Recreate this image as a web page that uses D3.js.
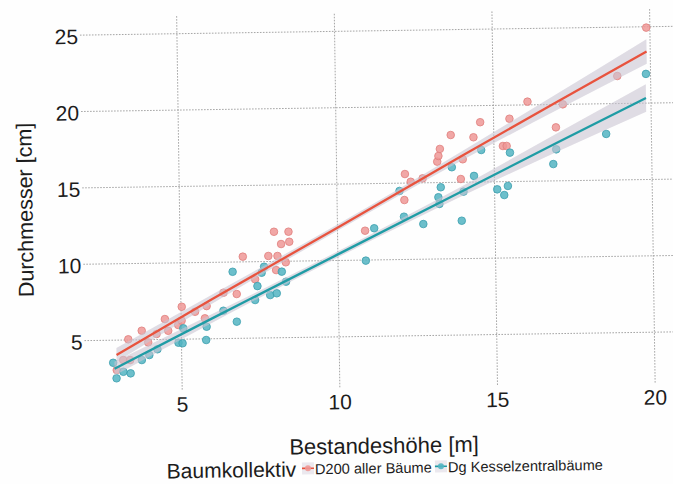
<!DOCTYPE html>
<html>
<head>
<meta charset="utf-8">
<script src="https://cdn.jsdelivr.net/npm/d3@7"></script>
<style>
  html, body { margin: 0; padding: 0; background: #fefefe; }
  svg { display: block; font-family: "Liberation Sans", Arial, Helvetica, sans-serif; }
</style>
</head>
<body>
<script>
// Stand height (m) and diameter (cm) per stand, for two tree collectives
const heightD200 = [2.95, 3.16, 3.38, 3.33, 3.76, 3.96, 4.23, 4.50, 4.60, 4.92, 5.03, 5.04,
  5.46, 5.77, 5.83, 6.37, 6.79, 7.00, 7.38, 7.81, 8.00, 8.05, 8.10, 8.22, 8.36, 8.46, 8.48,
  10.89, 12.15, 12.18, 12.36, 12.74, 13.21, 13.25, 13.30, 13.65, 13.95, 14.02, 14.37, 14.59,
  15.30, 15.42, 15.52, 16.10, 16.99, 17.22, 18.96, 19.90];
const diamD200 = [3.01, 3.66, 3.65, 5.01, 5.56, 4.79, 5.33, 6.30, 5.53, 5.90, 6.18, 7.09,
  6.75, 6.31, 7.11, 7.97, 7.87, 10.31, 8.82, 10.33, 11.91, 9.40, 10.32, 11.10, 9.90, 11.90, 11.24,
  11.89, 13.86, 15.56, 15.05, 15.26, 16.34, 16.71, 17.17, 18.07, 15.18, 16.47, 17.90, 18.88,
  17.30, 17.30, 19.08, 20.18, 18.47, 19.97, 21.77, 24.91];

const heightDg = [2.84, 2.94, 3.16, 3.39, 3.75, 3.99, 4.25, 4.92, 5.05, 5.08, 5.80, 5.82,
  6.36, 6.67, 6.78, 7.37, 7.45, 7.59, 7.67, 7.85, 8.06, 8.23, 8.36, 10.90, 11.18, 12.00,
  12.13, 12.74, 13.23, 13.26, 13.31, 13.67, 13.96, 14.03, 14.37, 14.61, 15.10, 15.32, 15.44,
  15.52, 16.89, 16.99, 18.58, 19.87];
const diamDg = [3.49, 2.47, 2.89, 2.78, 3.64, 3.96, 4.33, 4.74, 4.70, 5.68, 4.89, 5.76,
  6.79, 9.33, 6.06, 7.46, 8.37, 9.24, 9.63, 7.77, 7.88, 9.29, 8.63, 9.93, 12.04, 14.46,
  12.77, 12.27, 14.01, 13.57, 14.66, 15.96, 12.45, 14.35, 15.37, 17.06, 14.47, 14.09, 14.68,
  16.86, 16.07, 17.03, 17.99, 21.88];

// Linear trend (fitted value) with lower/upper confidence limits
const fitXD200 = [2.95, 6, 10, 14, 17, 19.9];
const fitD200 = [4.0, 7.55, 12.1, 16.7, 20.1, 23.35];
const fitLoD200 = [3.55, 7.25, 11.9, 16.4, 19.58, 22.55];
const fitHiD200 = [4.45, 7.85, 12.3, 17.0, 20.62, 24.15];

const fitXDg = [2.88, 6, 10, 14, 17, 19.86];
const fitDg = [3.1, 6.3, 10.35, 14.4, 17.45, 20.3];
const fitLoDg = [2.65, 6.02, 10.15, 14.08, 16.85, 19.4];
const fitHiDg = [3.55, 6.58, 10.55, 14.72, 18.05, 21.2];

const seriesNames = ["D200 aller Bäume", "Dg Kesselzentralbäume"];
const xTicks = [5, 10, 15, 20];
const yTicks = [5, 10, 15, 20, 25];
const xTitle = "Bestandeshöhe [m]";
const yTitle = "Durchmesser [cm]";
const legendTitle = "Baumkollektiv";

const W = 673, H = 484;
const panel = { left: 83, right: 680, top: 12, bottom: 387 };

const series = [
  { name: seriesNames[0], xs: heightD200, ys: diamD200,
    fx: fitXD200, fy: fitD200, flo: fitLoD200, fhi: fitHiD200,
    point: "#ef9896", pointStroke: "#e07f7d", line: "#e8533e" },
  { name: seriesNames[1], xs: heightDg, ys: diamDg,
    fx: fitXDg, fy: fitDg, flo: fitLoDg, fhi: fitHiDg,
    point: "#52b4c2", pointStroke: "#3c9fae", line: "#1f9ca5" }
];

const x = d3.scaleLinear().domain([2.0, 20.6]).range([84.9, 671.4]);
const y = d3.scaleLinear().domain([1.5, 26.5]).range([389.5, 7.6]);

const svg = d3.select("body").append("svg").attr("width", W).attr("height", H);
svg.append("rect").attr("width", W).attr("height", H).attr("fill", "#fefefe");

const g = svg.append("g").attr("transform", "rotate(-0.85,360,240)");

// Grid via axes
const gx = g.append("g").attr("transform", `translate(0,${panel.bottom})`)
  .call(d3.axisBottom(x).tickValues(xTicks).tickSize(-(panel.bottom - panel.top)).tickFormat(d3.format("d")));
const gy = g.append("g").attr("transform", `translate(${panel.left},0)`)
  .call(d3.axisLeft(y).tickValues(yTicks).tickSize(-(panel.right - panel.left)).tickFormat(d3.format("d")));

[gx, gy].forEach(ax => {
  ax.select(".domain").remove();
  ax.selectAll(".tick line")
    .attr("stroke", "#9c9c9c").attr("stroke-width", 0.9).attr("stroke-dasharray", "1.6,1.4");
  ax.selectAll(".tick text")
    .attr("fill", "#1c1c1c").attr("font-size", 21)
    .attr("font-family", "'Liberation Sans', Arial, sans-serif");
});
gx.selectAll(".tick text").attr("y", 22).attr("dy", 0);
gy.selectAll(".tick text").attr("x", -2).attr("dy", "0.42em");

// Points
const plot = g.append("g");
series.forEach(s => {
  plot.append("g").selectAll("circle")
    .data(s.xs.map((v, i) => [v, s.ys[i]]))
    .join("circle")
    .attr("cx", d => x(d[0])).attr("cy", d => y(d[1])).attr("r", 3.8)
    .attr("fill", s.point).attr("fill-opacity", 0.85)
    .attr("stroke", s.pointStroke).attr("stroke-width", 0.8);
});

// Trend lines with confidence bands
series.forEach(s => {
  const rows = s.fx.map((v, i) => ({ x: v, y: s.fy[i], lo: s.flo[i], hi: s.fhi[i] }));
  const area = d3.area().curve(d3.curveMonotoneX)
    .x(d => x(d.x)).y0(d => y(d.lo)).y1(d => y(d.hi));
  const line = d3.line().x(d => x(d.x)).y(d => y(d.y));
  plot.append("path").attr("d", area(rows)).attr("fill", "#c9c4d2").attr("fill-opacity", 0.6);
  plot.append("path").attr("d", line(rows)).attr("fill", "none")
    .attr("stroke", s.line).attr("stroke-width", 2.3);
});

// Axis titles
g.append("text").attr("x", 381).attr("y", 453.5).attr("text-anchor", "middle")
  .attr("font-size", 22).attr("fill", "#1c1c1c").text(xTitle);
g.append("text").attr("transform", "translate(33,205) rotate(-90)").attr("text-anchor", "middle")
  .attr("font-size", 21.5).attr("fill", "#1c1c1c").text(yTitle);

// Legend
const lg = g.append("g");
lg.append("text").attr("x", 163.3).attr("y", 475.5).attr("font-size", 21)
  .attr("fill", "#1c1c1c").text(legendTitle);
const keyX = [304.6, 437.6];
series.forEach((s, i) => {
  const cx = keyX[i], cy = 467.5;
  lg.append("rect").attr("x", cx - 6).attr("y", cy - 6).attr("width", 12).attr("height", 12)
    .attr("fill", "#e6e2ea").attr("fill-opacity", 0.8);
  lg.append("line").attr("x1", cx - 6).attr("x2", cx + 6).attr("y1", cy).attr("y2", cy)
    .attr("stroke", s.line).attr("stroke-width", 1.6);
  lg.append("circle").attr("cx", cx).attr("cy", cy).attr("r", 3)
    .attr("fill", s.point).attr("fill-opacity", 0.9);
  lg.append("text").attr("x", cx + 7).attr("y", 473.5).attr("font-size", 14.6)
    .attr("fill", "#1c1c1c").text(s.name);
});
</script>
</body>
</html>
